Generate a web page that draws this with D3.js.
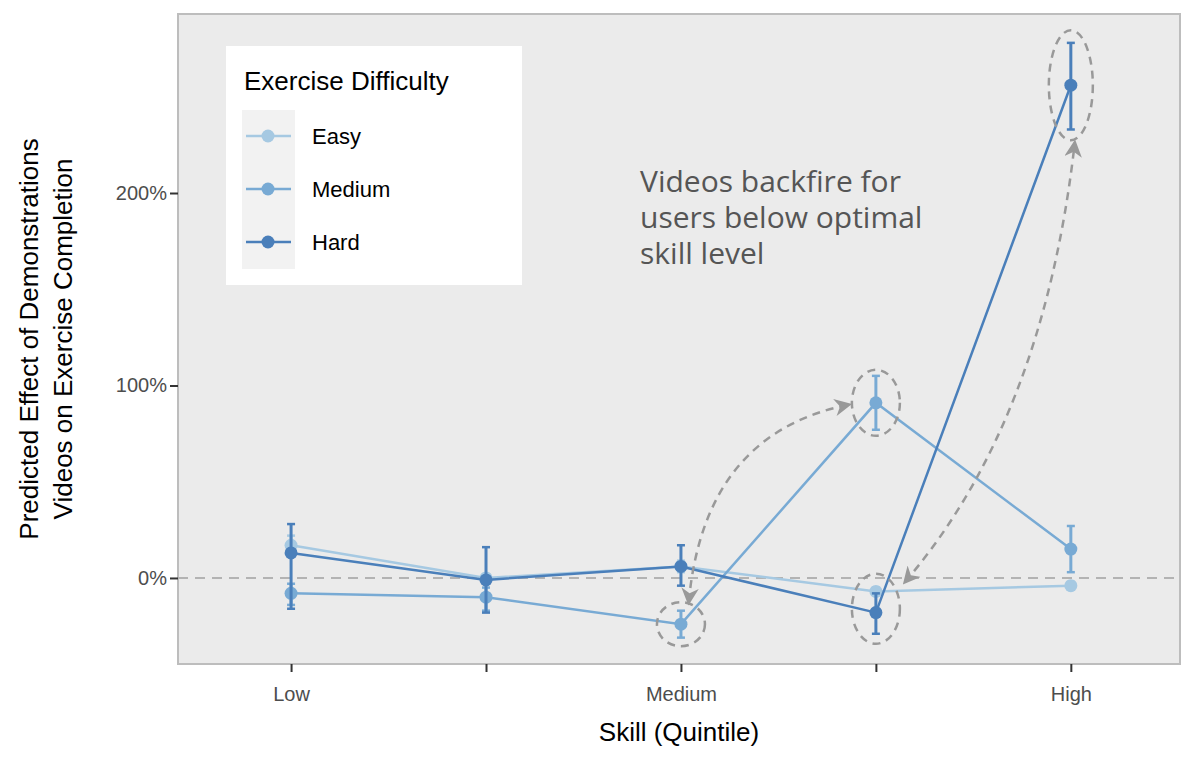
<!DOCTYPE html><html><head><meta charset="utf-8">
<script src="https://cdn.jsdelivr.net/npm/d3@7"></script>
<style>body{margin:0;background:#fff}text{font-family:"Helvetica","Liberation Sans",Arial,sans-serif}</style></head><body>
<svg id="c" width="1200" height="760"></svg>
<script>
const categories=["Low","","Medium","","High"];
const seriesNames=["Easy","Medium","Hard"];
const easyVals=[17,0,6,-7,-4];
const easyLo=[13,-2,3,-9,-6];
const easyHi=[22,2,9,-5,-2];
const mediumVals=[-8,-10,-24,91,15];
const mediumLo=[-14,-17,-31,77,3];
const mediumHi=[-3,-5,-17,105,27];
const hardVals=[13,-1,6,-18,256];
const hardLo=[-16,-18,-4,-29,233];
const hardHi=[28,16,17,-8,278];
const yTicks=[0,100,200];
const colors=["#a6c9e2","#78aad4","#4a7fba"];
const series=[[easyVals,easyLo,easyHi],[mediumVals,mediumLo,mediumHi],[hardVals,hardLo,hardHi]];

const svg=d3.select("#c");
const L=178,R=1180,T=14,B=664;
const x=d3.scaleLinear().domain([-0.58,4.56]).range([L,R]);
const y=d3.scaleLinear().domain([-44.7,293]).range([B,T]);
svg.append("rect").attr("x",L).attr("y",T).attr("width",R-L).attr("height",B-T).attr("fill","#ebebeb").attr("stroke","#bdbdbd").attr("stroke-width",2);
svg.append("line").attr("x1",L).attr("x2",R).attr("y1",y(0)).attr("y2",y(0)).attr("stroke","#b3b3b3").attr("stroke-width",2).attr("stroke-dasharray","10,7");
const xa=svg.append("g").attr("transform",`translate(0,${B})`).call(d3.axisBottom(x).tickValues([0,1,2,3,4]).tickFormat(i=>categories[i]).tickSize(8).tickSizeOuter(0));
const ya=svg.append("g").attr("transform",`translate(${L},0)`).call(d3.axisLeft(y).tickValues(yTicks).tickFormat(d=>d+"%").tickSize(8).tickSizeOuter(0));
[xa,ya].forEach(a=>{a.attr("font-size",20).attr("font-family",null);a.select(".domain").remove();a.selectAll("line").attr("stroke","#333").attr("stroke-width",2);a.selectAll("text").attr("fill","#4d4d4d");});
xa.selectAll("text").attr("dy","1.3em");
svg.append("text").attr("x",(L+R)/2).attr("y",741).attr("text-anchor","middle").attr("font-size",26).attr("fill","#000").text("Skill (Quintile)");
["Predicted Effect of Demonstrations","Videos on Exercise Completion"].forEach((t,i)=>
  svg.append("text").attr("transform",`translate(${38+i*34},${(T+B)/2}) rotate(-90)`).attr("text-anchor","middle").attr("font-size",26).text(t));
["Videos backfire for","users below optimal","skill level"].forEach((t,i)=>
  svg.append("text").attr("x",640).attr("y",192+i*36).attr("fill","#555").attr("font-size",30).style("font-family","'Open Sans',sans-serif").text(t));
const line=d3.line().x((d,i)=>x(i)).y(d=>y(d));
series.forEach(([v,lo,hi],s)=>{
  const g=svg.append("g");
  g.append("path").datum(v).attr("d",line).attr("fill","none").attr("stroke",colors[s]).attr("stroke-width",2.5);
  v.forEach((d,i)=>{
    g.append("line").attr("x1",x(i)).attr("x2",x(i)).attr("y1",y(lo[i])).attr("y2",y(hi[i])).attr("stroke",colors[s]).attr("stroke-width",3);
    [lo[i],hi[i]].forEach(e=>g.append("line").attr("x1",x(i)-4).attr("x2",x(i)+4).attr("y1",y(e)).attr("y2",y(e)).attr("stroke",colors[s]).attr("stroke-width",2.5));
    g.append("circle").attr("cx",x(i)).attr("cy",y(d)).attr("r",6.5).attr("fill",colors[s]);
  });
});
const ell=[[2,-24,24,22],[3,91,24,33],[3,-16,24,35],[4,256,22,55]];
ell.forEach(([i,v,rx,ry])=>svg.append("ellipse").attr("cx",x(i)).attr("cy",y(v)).attr("rx",rx).attr("ry",ry).attr("fill","none").attr("stroke","#999").attr("stroke-width",2.5).attr("stroke-dasharray","8,6"));
svg.append("defs").append("marker").attr("id","ah").attr("viewBox","0 0 10 10").attr("refX",8).attr("refY",5).attr("markerWidth",7).attr("markerHeight",7).attr("orient","auto-start-reverse").append("path").attr("d","M0,0L10,5L0,10L3,5Z").attr("fill","#999");
const arrows=[[[2.04,-12.5],[2.12,75],[2.86,90]],[[3.15,-2],[3.86,82],[4.02,226]]];
arrows.forEach(([a,c,b])=>svg.append("path").attr("d",`M${x(a[0])},${y(a[1])}Q${x(c[0])},${y(c[1])} ${x(b[0])},${y(b[1])}`).attr("fill","none").attr("stroke","#999").attr("stroke-width",2.5).attr("stroke-dasharray","8,6").attr("marker-start","url(#ah)").attr("marker-end","url(#ah)"));
const lg=svg.append("g");
lg.append("rect").attr("x",226).attr("y",46).attr("width",296).attr("height",239).attr("fill","#fff");
lg.append("text").attr("x",244).attr("y",90).attr("font-size",26).text("Exercise Difficulty");
seriesNames.forEach((n,k)=>{
  const cy=136+k*53;
  lg.append("rect").attr("x",242).attr("y",cy-26).attr("width",53).attr("height",53).attr("fill","#f2f2f2");
  lg.append("line").attr("x1",246).attr("x2",291).attr("y1",cy).attr("y2",cy).attr("stroke",colors[k]).attr("stroke-width",2.5);
  lg.append("circle").attr("cx",268).attr("cy",cy).attr("r",6.5).attr("fill",colors[k]);
  lg.append("text").attr("x",312).attr("y",cy+8).attr("font-size",22).text(n);
});
</script></body></html>
